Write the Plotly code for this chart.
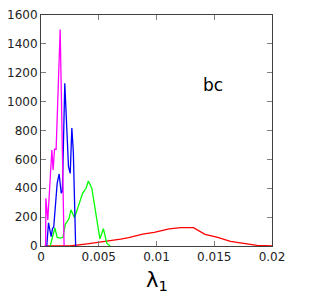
import plotly.graph_objects as go

magenta_x = [0.0004, 0.00042, 0.00059, 0.00094, 0.00105, 0.00117, 0.00131, 0.00166, 0.0020]
magenta_y = [0, 330, 180, 665, 526, 670, 670, 1500, 0]

blue_x = [0.0005, 0.00065, 0.00088, 0.0010, 0.0011, 0.0014, 0.00157, 0.00175, 0.00185, 0.00206, 0.00238, 0.00253, 0.00267, 0.0028, 0.0030]
blue_y = [0, 161, 65, 122, 130, 434, 499, 365, 380, 1127, 549, 503, 817, 650, 0]

green_x = [0.0008, 0.0010, 0.0012, 0.0014, 0.0017, 0.0019, 0.0021, 0.0024, 0.0026, 0.0029, 0.0036, 0.0039, 0.0041, 0.0044, 0.0051, 0.0054, 0.0057, 0.0060]
green_y = [0, 60, 125, 60, 55, 60, 150, 185, 250, 195, 365, 400, 450, 400, 50, 120, 18, 0]

red_x = [0.0003, 0.0025, 0.0040, 0.0055, 0.0069, 0.0076, 0.0088, 0.0098, 0.0111, 0.0121, 0.0132, 0.0142, 0.0153, 0.0164, 0.0176, 0.0187, 0.0200]
red_y = [0, 0, 15, 30, 48, 58, 83, 95, 118, 127, 127, 81, 60, 32, 16, 5, 0]

x_ticks = [0, 0.005, 0.01, 0.015, 0.02]
x_tick_labels = ["0", "0.005", "0.01", "0.015", "0.02"]
y_ticks = [0, 200, 400, 600, 800, 1000, 1200, 1400, 1600]

fig = go.Figure()
for xs, ys, c in [(red_x, red_y, "#ff0000"), (green_x, green_y, "#00ff00"),
                  (blue_x, blue_y, "#0000ff"), (magenta_x, magenta_y, "#ff00ff")]:
    fig.add_trace(go.Scatter(x=xs, y=ys, mode="lines", line=dict(color=c, width=1.3),
                             showlegend=False, hoverinfo="skip"))

fig.add_annotation(x=0.0149, y=1115, text="bc", showarrow=False,
                   font=dict(family="DejaVu Sans", size=17, color="#000"))
fig.add_annotation(x=0.5, y=-0.15, xref="paper", yref="paper", text="λ<sub>1</sub>",
                   showarrow=False, xanchor="center", yanchor="middle",
                   font=dict(family="DejaVu Sans", size=21, color="#000"))

axis_common = dict(showgrid=False, zeroline=False, showline=True, linecolor="#404040",
                   linewidth=1, mirror="ticks", ticks="inside", ticklen=5, automargin=False,
                   tickcolor="#808080", tickfont=dict(family="DejaVu Sans", size=12, color="#222"))

fig.update_xaxes(range=[0, 0.02], tickvals=x_ticks, ticktext=x_tick_labels, **axis_common)
fig.update_yaxes(range=[0, 1600], tickvals=y_ticks, **axis_common)

fig.update_layout(width=334, height=300, margin=dict(l=41, r=62, t=15, b=54),
                  paper_bgcolor="white", plot_bgcolor="white")

fig.write_html("out.html", config={"displayModeBar": False},
               post_script="document.body.style.margin='0';")
